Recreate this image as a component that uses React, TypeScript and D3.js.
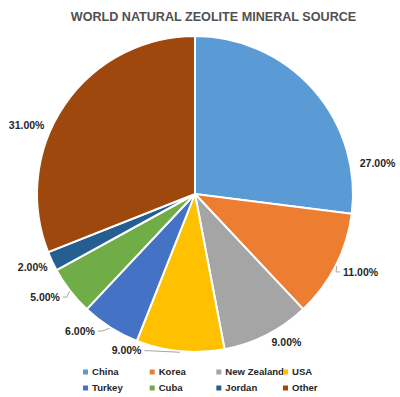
import { useEffect, useRef } from 'react';
import * as d3 from 'd3';

// Chart data
const countries = ['China', 'Korea', 'New Zealand', 'USA', 'Turkey', 'Cuba', 'Jordan', 'Other'];
const shares = [27, 11, 9, 9, 6, 5, 2, 31];
const colors = ['#5B9BD5', '#ED7D31', '#A5A5A5', '#FFC000', '#4472C4', '#70AD47', '#255E91', '#9E480E'];

// Data label placement (Excel "best fit" style): angle in degrees from 12 o'clock, distance from centre
const labelAngles = [80.6, 115.2, 148.3, 203.6, 220, 235.5, 245.75, 292.3];
const labelDists = [185, 183, 174, 171, 179, 182, 178, 182];
const hasLeader = [false, true, false, true, true, true, false, false];

const App = () => {
  const svgRef = useRef<SVGSVGElement>(null);

  useEffect(() => {
    if (!svgRef.current) return;
    const svg = d3.select(svgRef.current);
    svg.selectAll('*').remove();

    const width = 400;
    const height = 397;
    const cx = 195;
    const cy = 194;
    const radius = 158;
    const font = 'Liberation Sans, Arial, sans-serif';

    svg.append('rect').attr('width', width).attr('height', height).attr('fill', '#ffffff');

    svg.append('text')
      .attr('x', 213.5)
      .attr('y', 21)
      .attr('text-anchor', 'middle')
      .attr('font-family', font)
      .attr('font-weight', 'bold')
      .attr('font-size', '12.6px')
      .attr('fill', '#505050')
      .text('WORLD NATURAL ZEOLITE MINERAL SOURCE');

    const data = countries.map((c, i) => ({ name: c, value: shares[i], color: colors[i], i }));
    const pie = d3.pie<typeof data[0]>().value(d => d.value).sort(null);
    const arcs = pie(data);
    const arc = d3.arc<d3.PieArcDatum<typeof data[0]>>().innerRadius(0).outerRadius(radius);

    const g = svg.append('g').attr('transform', `translate(${cx},${cy})`);
    g.selectAll('path')
      .data(arcs)
      .enter()
      .append('path')
      .attr('d', arc)
      .attr('fill', d => d.data.color)
      .attr('stroke', '#ffffff')
      .attr('stroke-width', 2);

    const polar = (deg: number, dist: number): [number, number] => {
      const a = (deg * Math.PI) / 180;
      return [dist * Math.sin(a), -dist * Math.cos(a)];
    };

    const fmt = d3.format('.2f');
    arcs.forEach((d, i) => {
      const [lx, ly] = polar(labelAngles[i], labelDists[i]);
      const t = g.append('text')
        .attr('x', lx)
        .attr('y', ly)
        .attr('dy', '0.35em')
        .attr('text-anchor', 'middle')
        .attr('font-family', font)
        .attr('font-weight', 'bold')
        .attr('font-size', '10.5px')
        .attr('fill', '#262626')
        .text(`${fmt(d.data.value)}%`);
      if (hasLeader[i]) {
        const w = (t.node() as SVGTextElement).getComputedTextLength();
        const mid = (((d.startAngle + d.endAngle) / 2) * 180) / Math.PI;
        const [sx, sy] = polar(mid, radius + 1);
        const side = lx > 0 ? -1 : 1;
        const ex = lx + side * (w / 2 + 3);
        const kx = ex + side * 4;
        g.append('polyline')
          .attr('points', `${sx},${sy} ${kx},${ly} ${ex},${ly}`)
          .attr('fill', 'none')
          .attr('stroke', '#A6A6A6')
          .attr('stroke-width', 1);
      }
    });

    // Legend
    const colX = d3.scaleLinear().domain([0, 3]).range([83, 283]);
    const legend = svg.append('g');
    data.forEach((d, i) => {
      const x = colX(i % 4);
      const y = i < 4 ? 372 : 388;
      legend.append('rect')
        .attr('x', x)
        .attr('y', y - 2.5)
        .attr('width', 5)
        .attr('height', 5)
        .attr('fill', d.color);
      legend.append('text')
        .attr('x', x + 9)
        .attr('y', y)
        .attr('dy', '0.35em')
        .attr('font-family', font)
        .attr('font-weight', 'bold')
        .attr('font-size', '9.6px')
        .attr('fill', '#262626')
        .text(d.name);
    });
  }, []);

  return (
    <svg
      ref={svgRef}
      width={400}
      height={397}
      viewBox="0 0 400 397"
      style={{ position: 'absolute', left: 0, top: 0, display: 'block' }}
    />
  );
};

export default App;
